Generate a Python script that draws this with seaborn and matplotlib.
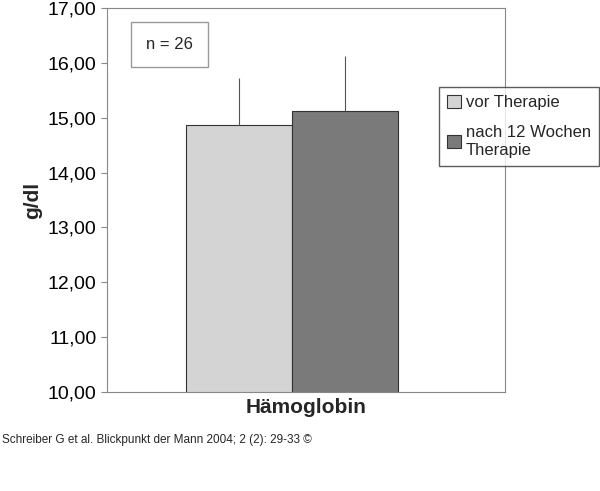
import matplotlib
matplotlib.use("Agg")
import matplotlib.pyplot as plt
import seaborn as sns
import pandas as pd
from matplotlib.patches import Patch

series = ["vor Therapie", "nach 12 Wochen\nTherapie"]
values = [14.86, 15.13]
errors = [0.86, 0.99]
colors = ["#d4d4d4", "#7a7a7a"]
yticks = [10, 11, 12, 13, 14, 15, 16, 17]

sns.set_style("white")
plt.rcParams['font.family'] = ['Liberation Sans', 'DejaVu Sans']

fig = plt.figure(figsize=(6, 4.91), dpi=100)
ax = fig.add_axes([0.178, 0.2016, 0.663, 0.782])
df = pd.DataFrame({"s": series, "v": values})
sns.barplot(data=df, x="s", y="v", hue="s", palette=colors, width=1.0,
            edgecolor="#333333", linewidth=0.8, legend=False, ax=ax)
ax.errorbar([0, 1], values, yerr=[[0, 0], errors], fmt="none",
            ecolor="#555555", elinewidth=0.8, capsize=0)
ax.set_ylim(10, 17)
ax.set_xlim(-1.245, 2.509)
ax.set_yticks(yticks)
ax.set_yticklabels([f"{t:.2f}".replace(".", ",") for t in yticks], fontsize=14, color="black")
ax.set_xticks([])
ax.set_xlabel("Hämoglobin", fontsize=15, fontweight="bold")
ax.set_ylabel("g/dl", fontsize=15, fontweight="bold")
for sp in ax.spines.values():
    sp.set_color("#888888"); sp.set_linewidth(0.8)
ax.tick_params(axis="y", length=4, color="#888888", left=True)

ax.text(-0.65, 16.34, "n = 26", fontsize=12, ha="center", va="center",
        bbox=dict(facecolor="white", edgecolor="#999999", boxstyle="square,pad=0.9"))

handles = [Patch(facecolor=c, edgecolor="#333333", linewidth=0.8) for c in colors]
fig.legend(handles, series, loc="upper left", bbox_to_anchor=(0.718, 0.84),
           fontsize=12, frameon=True, fancybox=False, edgecolor="#333333",
           handlelength=0.8, handleheight=0.8, handletextpad=0.3, borderpad=0.5,
           labelspacing=0.9)

fig.text(0.003, 0.098, "Schreiber G et al. Blickpunkt der Mann 2004; 2 (2): 29-33 ©",
         fontsize=8.5)
fig.savefig("out.png", dpi=100)
